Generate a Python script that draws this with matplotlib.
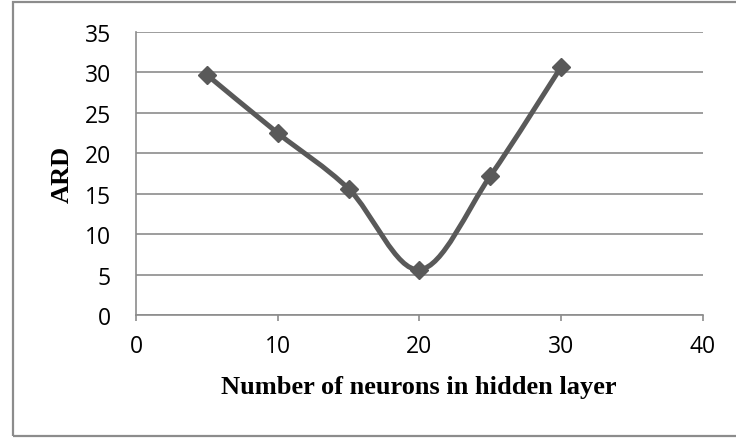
import numpy as np
import matplotlib
matplotlib.use("Agg")
import matplotlib.pyplot as plt
from matplotlib.path import Path
from matplotlib.patches import PathPatch, Rectangle

# data
neurons = [5, 10, 15, 20, 25, 30]
ard = [29.7, 22.5, 15.6, 5.6, 17.2, 30.7]

x_ticks = [0, 10, 20, 30, 40]
y_ticks = [0, 5, 10, 15, 20, 25, 30, 35]

line_color = "#595959"
grid_color = "#8c8c8c"

plt.rcParams["font.family"] = ["Open Sans", "DejaVu Sans"]


def smooth_path(xs, ys):
    # Excel-like smoothed line: Catmull-Rom segments turned into cubic Beziers
    pts = np.column_stack([xs, ys]).astype(float)
    n = len(pts)
    verts = [pts[0]]
    codes = [Path.MOVETO]
    for i in range(n - 1):
        p0 = pts[max(i - 1, 0)]
        p1 = pts[i]
        p2 = pts[i + 1]
        p3 = pts[min(i + 2, n - 1)]
        c1 = p1 + (p2 - p0) / 6.0
        c2 = p2 - (p3 - p1) / 6.0
        verts += [c1, c2, p2]
        codes += [Path.CURVE4] * 3
    return Path(verts, codes)


fig = plt.figure(figsize=(7.36, 4.39), dpi=100)
ax = fig.add_axes([136 / 736, 123 / 439, 567 / 736, 283 / 439])

ax.add_patch(PathPatch(smooth_path(neurons, ard), facecolor="none",
                       edgecolor=line_color, lw=3.6, capstyle="round",
                       joinstyle="round", zorder=3))
ax.plot(neurons, ard, linestyle="none", marker="D", ms=9.5,
        color=line_color, zorder=4)

ax.set_xlim(0, 40)
ax.set_ylim(0, 35)
ax.set_xticks(x_ticks)
ax.set_yticks(y_ticks)
ax.grid(axis="y", color=grid_color, lw=1.2)
ax.set_axisbelow(True)

for side in ["top", "right"]:
    ax.spines[side].set_visible(False)
for side in ["left", "bottom"]:
    ax.spines[side].set_color(grid_color)
    ax.spines[side].set_linewidth(1.2)

ax.tick_params(axis="x", length=4, width=1.2, color=grid_color,
               labelsize=16.5, pad=10, direction="out")
ax.tick_params(axis="y", length=0, labelsize=16.5, pad=18)

label_font = dict(family="Liberation Serif", weight="bold", size=19)
ax.set_xlabel("Number of neurons in hidden layer", **label_font)
ax.set_ylabel("ARD", **label_font)
ax.xaxis.set_label_coords((418.5 - 136) / 567, (316 - 388) / 283)
ax.xaxis.label.set_verticalalignment("center")
ax.yaxis.set_label_coords((62 - 136) / 567, (316 - 174) / 283)
ax.yaxis.label.set_verticalalignment("center")

# chart area border, open on the right like the reference crop
fig.patches.append(Rectangle((13 / 736, 2 / 439), 1.0, 434 / 439,
                             transform=fig.transFigure, fill=False,
                             edgecolor=grid_color, lw=1.6))

fig.savefig("out.png", dpi=100)
